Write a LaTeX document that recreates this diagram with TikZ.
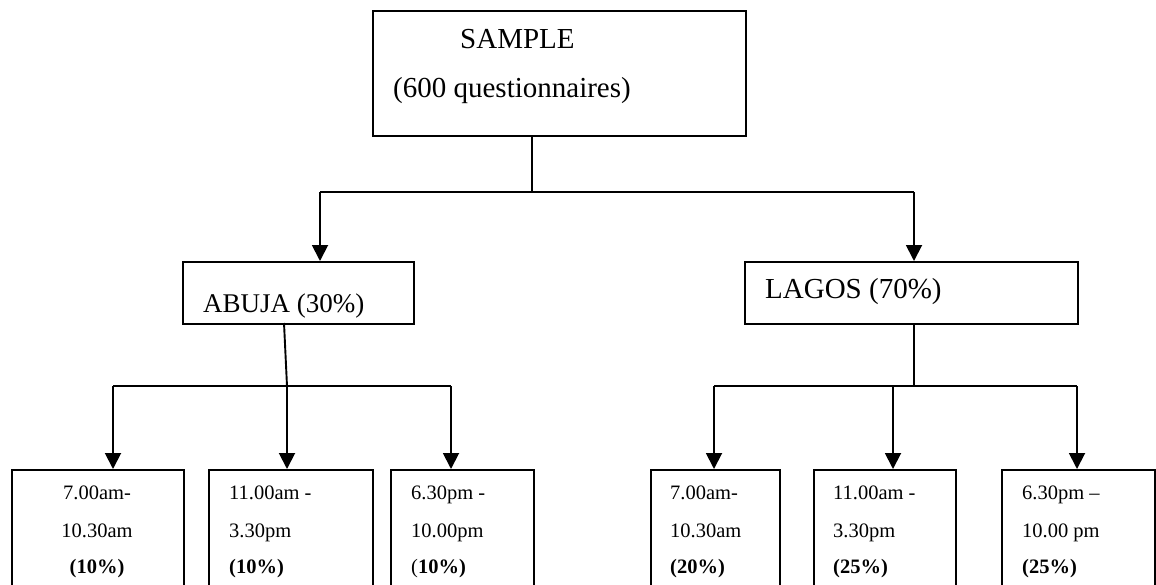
\documentclass[tikz,border=0pt]{standalone}
\usepackage{fontspec}
\setmainfont{Liberation Serif}
\usetikzlibrary{arrows.meta}
\begin{document}
\begin{tikzpicture}[x=1pt,y=-1pt,
  box/.style={draw, line width=1.9pt, inner sep=0pt, anchor=north west},
  conn/.style={line width=1.9pt},
  arr/.style={conn, -{Triangle[width=16pt,length=16pt]}},
  big/.style={font=\fontsize{29}{33}\selectfont, inner sep=0pt, anchor=base west},
  mid/.style={font=\fontsize{27}{31}\selectfont, inner sep=0pt, anchor=base west},
  small/.style={font=\fontsize{20.5}{24}\selectfont, inner sep=0pt, anchor=base west},
  smallc/.style={small, anchor=base},
]
\useasboundingbox (0,0) rectangle (1156,584);
\clip (0,0) rectangle (1156,584);

% boxes
\node[box, minimum width=373pt, minimum height=125pt] (sample) at (372,10) {};
\node[box, minimum width=231pt, minimum height=62pt] (abuja) at (182,261) {};
\node[box, minimum width=333pt, minimum height=62pt] (lagos) at (744,261) {};
\node[box, minimum width=172pt, minimum height=160pt] (a1) at (11,469) {};
\node[box, minimum width=164pt, minimum height=160pt] (a2) at (208,469) {};
\node[box, minimum width=143pt, minimum height=160pt] (a3) at (390,469) {};
\node[box, minimum width=129pt, minimum height=160pt] (l1) at (650,469) {};
\node[box, minimum width=142pt, minimum height=160pt] (l2) at (813,469) {};
\node[box, minimum width=153pt, minimum height=160pt] (l3) at (1001,469) {};

% texts
\node[big] (ts1) at (460,48) {SAMPLE};
\node[big] (ts2) at (393,97) {(600 questionnaires)};
\node[mid] (tab) at (203,312) {ABUJA (30\%)};
\node[big] (tla) at (765,298) {LAGOS (70\%)};

\node[smallc] (a1a) at (97,499) {7.00am-};
\node[smallc] (a1b) at (97,537) {10.30am};
\node[smallc] (a1c) at (97,573) {\textbf{(10\%)}};

\node[small] (a2a) at (229,499) {11.00am -};
\node[small] (a2b) at (229,537) {3.30pm};
\node[small] (a2c) at (229,573) {\textbf{(10\%)}};

\node[small] (a3a) at (411,499) {6.30pm -};
\node[small] (a3b) at (411,537) {10.00pm};
\node[small] (a3c) at (411,573) {(\textbf{10\%)}};

\node[small] (l1a) at (670,499) {7.00am-};
\node[small] (l1b) at (670,537) {10.30am};
\node[small] (l1c) at (670,573) {\textbf{(20\%)}};

\node[small] (l2a) at (833,499) {11.00am -};
\node[small] (l2b) at (833,537) {3.30pm};
\node[small] (l2c) at (833,573) {\textbf{(25\%)}};

\node[small] (l3a) at (1022,499) {6.30pm --};
\node[small] (l3b) at (1022,537) {10.00 pm};
\node[small] (l3c) at (1022,573) {\textbf{(25\%)}};

% connectors: top level
\coordinate (j0) at (532,192);
\coordinate (ja) at (320,192);
\coordinate (jl) at (914,192);
\draw[conn] (j0 |- sample.south) -- (j0);
\draw[conn] (ja) -- (jl);
\draw[arr] (ja) -- (ja |- abuja.north);
\draw[arr] (jl) -- (jl |- lagos.north);

% Abuja branch
\coordinate (abot) at (284,323);
\coordinate (hb) at (287,386);
\coordinate (hb1) at (113,386);
\coordinate (hb3) at (451,386);
\draw[conn] (abot) -- (hb);
\draw[conn] (hb1) -- (hb3);
\draw[arr] (hb1) -- (hb1 |- a1.north);
\draw[arr] (hb) -- (hb |- a2.north);
\draw[arr] (hb3) -- (hb3 |- a3.north);

% Lagos branch
\coordinate (lbot) at (914,323);
\coordinate (hl) at (914,386);
\coordinate (hl1) at (714,386);
\coordinate (hl2) at (893,386);
\coordinate (hl3) at (1077,386);
\draw[conn] (lbot) -- (hl);
\draw[conn] (hl1) -- (hl3);
\draw[arr] (hl1) -- (hl1 |- l1.north);
\draw[arr] (hl2) -- (hl2 |- l2.north);
\draw[arr] (hl3) -- (hl3 |- l3.north);
\end{tikzpicture}
\end{document}
